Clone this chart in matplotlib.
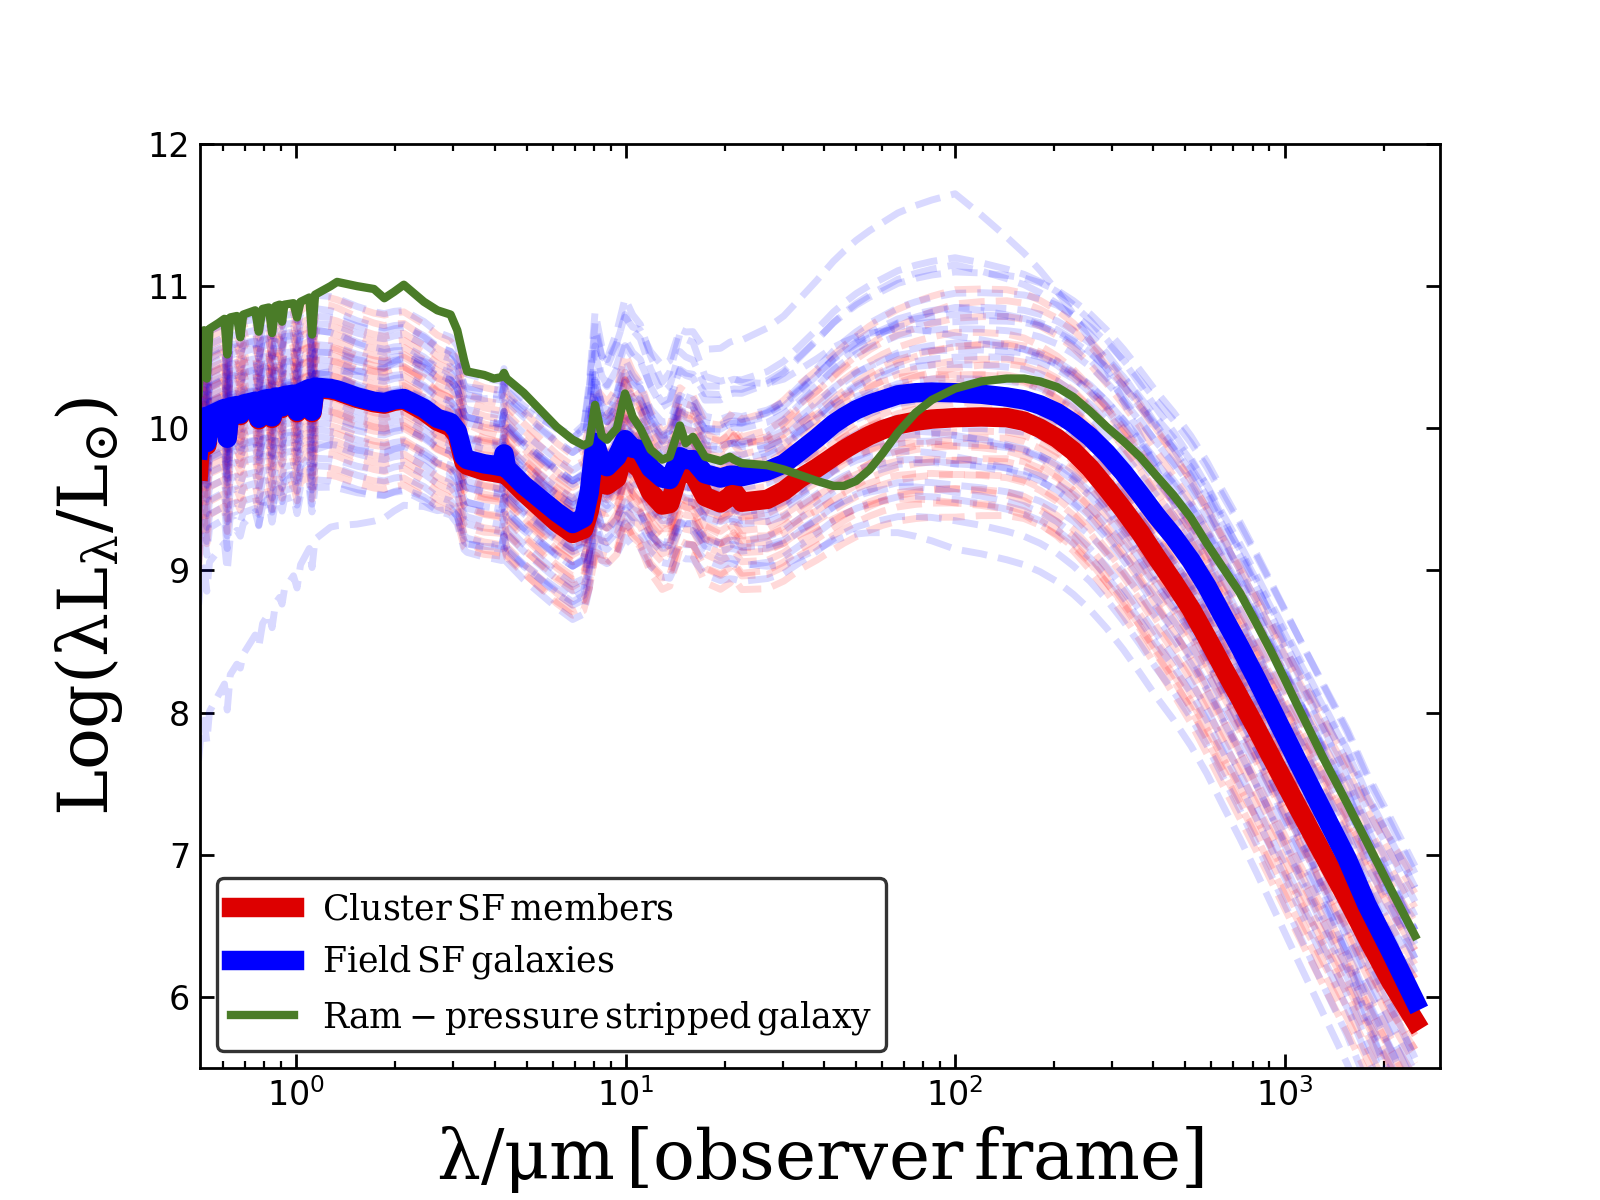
'''
SED templates: cluster vs field star-forming galaxies
'''

import numpy as np
import matplotlib
matplotlib.use('Agg')
from matplotlib import pyplot as plt

# observer-frame wavelength grid (micron) shared by the three main SEDs
wavelength = [0.505, 0.515, 0.525, 0.535, 0.545, 0.58, 0.605, 0.617, 0.63, 0.66,
              0.676, 0.69, 0.75, 0.769, 0.79, 0.825, 0.844, 0.865, 0.89, 0.905,
              0.92, 0.98, 1.005, 1.03, 1.095, 1.116, 1.14, 1.27, 1.33, 1.53,
              1.72, 1.85, 1.98, 2.12, 2.44, 2.68, 2.94, 3.08, 3.23, 3.30,
              3.72, 3.98, 4.20, 4.27, 4.35, 4.9, 6.17, 6.9, 7.45, 7.75,
              8.07, 8.45, 8.77, 9.40, 9.95, 10.5, 11.07, 11.9, 12.9, 13.6,
              14.6, 15.2, 16.0, 17.4, 19.4, 20.7, 21.3, 22.5, 26.9, 30.2,
              33.9, 38.0, 42.7, 46.0, 50.1, 55.0, 60.3, 67.0, 75.9, 85.0,
              100.0, 120.0, 143.5, 162.0, 181.0, 204.0, 228.5, 257.0, 288.4, 324.0,
              364.0, 407.0, 460.0, 520.0, 581.0, 650.0, 733.0, 825.0, 925.0, 1100.0,
              1312.0, 1550.0, 1778.0, 2100.0, 2490.0]

# Log(lambda L_lambda / L_sun)
field_sf = [9.85, 10.05, 10.08, 9.90, 10.09, 10.12, 10.14, 9.93, 10.15, 10.16,
            10.10, 10.17, 10.19, 10.07, 10.20, 10.21, 10.08, 10.22, 10.22, 10.15,
            10.23, 10.24, 10.12, 10.25, 10.28, 10.12, 10.29, 10.28, 10.27, 10.22,
            10.19, 10.18, 10.20, 10.21, 10.14, 10.07, 10.04, 9.98, 9.80, 9.78,
            9.75, 9.74, 9.73, 9.82, 9.72, 9.60, 9.41, 9.33, 9.37, 9.55,
            9.90, 9.75, 9.73, 9.80, 9.92, 9.86, 9.85, 9.72, 9.65, 9.64,
            9.80, 9.78, 9.78, 9.68, 9.65, 9.67, 9.67, 9.66, 9.70, 9.75,
            9.84, 9.93, 10.03, 10.08, 10.13, 10.17, 10.20, 10.235, 10.25, 10.255,
            10.25, 10.24, 10.22, 10.20, 10.165, 10.11, 10.035, 9.94, 9.825, 9.69,
            9.54, 9.39, 9.24, 9.07, 8.89, 8.68, 8.46, 8.23, 8.00, 7.65,
            7.30, 6.97, 6.65, 6.32, 5.97]

cluster_sf = [9.70, 10.02, 10.07, 9.88, 10.08, 10.11, 10.13, 9.95, 10.14, 10.15,
              10.09, 10.16, 10.18, 10.06, 10.19, 10.20, 10.07, 10.21, 10.21, 10.14,
              10.22, 10.23, 10.11, 10.24, 10.27, 10.11, 10.28, 10.27, 10.26, 10.21,
              10.18, 10.17, 10.19, 10.20, 10.12, 10.05, 10.01, 9.95, 9.76, 9.74,
              9.70, 9.69, 9.68, 9.74, 9.67, 9.55, 9.34, 9.26, 9.29, 9.42,
              9.63, 9.61, 9.60, 9.65, 9.86, 9.76, 9.71, 9.55, 9.46, 9.47,
              9.71, 9.69, 9.68, 9.52, 9.475, 9.52, 9.555, 9.48, 9.50, 9.56,
              9.65, 9.72, 9.80, 9.85, 9.90, 9.95, 9.99, 10.025, 10.05, 10.065,
              10.075, 10.08, 10.075, 10.05, 10.0, 9.93, 9.84, 9.72, 9.58, 9.43,
              9.27, 9.10, 8.92, 8.73, 8.53, 8.32, 8.10, 7.88, 7.66, 7.33,
              7.00, 6.69, 6.42, 6.11, 5.83]

rps_galaxy = [10.25, 10.62, 10.69, 10.35, 10.70, 10.74, 10.77, 10.52, 10.78, 10.79,
              10.64, 10.80, 10.83, 10.68, 10.84, 10.85, 10.67, 10.86, 10.87, 10.75,
              10.87, 10.88, 10.78, 10.89, 10.92, 10.66, 10.94, 11.00, 11.03, 11.00,
              10.98, 10.915, 10.96, 11.01, 10.89, 10.83, 10.80, 10.69, 10.48, 10.40,
              10.375, 10.35, 10.36, 10.39, 10.35, 10.25, 10.01, 9.92, 9.88, 9.90,
              10.165, 9.95, 9.92, 10.00, 10.245, 10.08, 10.00, 9.85, 9.78, 9.80,
              10.02, 9.895, 9.94, 9.80, 9.77, 9.80, 9.78, 9.755, 9.74, 9.71,
              9.67, 9.63, 9.595, 9.595, 9.63, 9.71, 9.825, 9.97, 10.11, 10.20,
              10.28, 10.33, 10.35, 10.35, 10.33, 10.29, 10.22, 10.12, 10.01, 9.91,
              9.80, 9.67, 9.53, 9.37, 9.19, 9.02, 8.84, 8.62, 8.40, 8.04,
              7.68, 7.36, 7.09, 6.76, 6.43]

# individual templates: offset from the mean at these wavelengths,
# last column = extra PAH strength
anchor_wl = [0.5, 1.2, 3.0, 16.0, 100.0, 2500.0]

cluster_offsets = [
    [0.60, 0.65, 0.60, 0.50, 0.90, 0.90, 0.2],
    [0.50, 0.50, 0.45, 0.40, 0.70, 0.80, 0.1],
    [0.40, 0.45, 0.40, 0.30, 0.50, 0.60, 0.0],
    [0.35, 0.30, 0.30, 0.35, 0.60, 0.50, 0.2],
    [0.30, 0.30, 0.20, 0.20, 0.40, 0.50, 0.1],
    [0.25, 0.20, 0.25, 0.10, 0.30, 0.30, 0.0],
    [0.20, 0.20, 0.15, 0.15, 0.25, 0.40, 0.3],
    [0.15, 0.10, 0.10, 0.00, 0.10, 0.20, 0.0],
    [0.10, 0.10, 0.05, 0.05, 0.20, 0.10, 0.1],
    [0.05, 0.05, 0.00, -0.05, 0.00, 0.00, 0.0],
    [0.00, 0.00, -0.05, 0.00, 0.15, 0.30, 0.2],
    [-0.05, -0.05, -0.10, -0.10, -0.10, -0.10, 0.0],
    [-0.10, -0.10, -0.10, -0.15, 0.05, 0.20, 0.1],
    [-0.15, -0.15, -0.20, -0.20, -0.20, -0.20, 0.0],
    [-0.20, -0.20, -0.20, -0.10, -0.30, -0.40, 0.2],
    [-0.25, -0.25, -0.30, -0.30, -0.15, -0.10, 0.0],
    [-0.30, -0.30, -0.30, -0.35, -0.40, -0.50, 0.1],
    [-0.35, -0.35, -0.40, -0.40, -0.50, -0.70, 0.0],
    [-0.40, -0.40, -0.45, -0.30, -0.30, -0.20, 0.2],
    [-0.50, -0.45, -0.50, -0.50, -0.60, -0.80, 0.0],
    [-0.60, -0.55, -0.55, -0.60, -0.70, -0.60, 0.1],
    [-0.70, -0.60, -0.60, -0.50, -0.50, -0.90, 0.0],
    [0.45, 0.40, 0.35, 0.20, 0.00, -0.30, 0.0],
    [0.30, 0.35, 0.30, 0.10, -0.20, -0.50, 0.1],
    [0.20, 0.25, 0.20, 0.30, 0.80, 1.00, 0.3],
    [0.10, 0.15, 0.10, 0.20, 0.50, 0.70, 0.1],
    [-0.10, -0.05, 0.00, 0.10, 0.35, 0.60, 0.2],
    [0.00, 0.05, 0.05, -0.20, -0.40, -0.60, 0.0],
    [-0.20, -0.15, -0.15, -0.25, -0.60, -1.00, 0.0],
    [0.55, 0.60, 0.50, 0.45, 0.30, 0.20, 0.1],
]

field_offsets = [
    [0.00, 0.10, 0.40, 0.85, 1.40, -1.06, 0.2],
    [0.60, 0.65, 0.60, 0.60, 0.95, 0.50, 0.4],
    [0.50, 0.50, 0.50, 0.50, 0.90, 0.30, 0.3],
    [0.40, 0.45, 0.45, 0.55, 0.85, 0.90, 0.2],
    [0.35, 0.40, 0.35, 0.40, 0.50, 0.80, 0.1],
    [0.30, 0.30, 0.30, 0.30, 0.45, 0.60, 0.3],
    [0.25, 0.25, 0.25, 0.35, 0.55, 0.70, 0.0],
    [0.20, 0.20, 0.15, 0.20, 0.30, 0.50, 0.2],
    [0.15, 0.15, 0.15, 0.10, 0.35, 0.40, 0.1],
    [0.10, 0.10, 0.05, 0.10, 0.20, 0.30, 0.0],
    [0.05, 0.05, 0.05, 0.00, 0.10, 0.20, 0.2],
    [0.00, 0.00, 0.00, 0.05, 0.25, 0.50, 0.1],
    [-0.05, -0.05, -0.05, -0.05, 0.00, 0.00, 0.0],
    [-0.10, -0.10, -0.10, -0.10, -0.05, 0.10, 0.3],
    [-0.15, -0.15, -0.15, -0.20, -0.15, -0.20, 0.0],
    [-0.20, -0.20, -0.20, -0.15, -0.25, -0.10, 0.1],
    [-0.25, -0.30, -0.30, -0.30, -0.35, -0.40, 0.0],
    [-0.30, -0.35, -0.35, -0.25, -0.30, -0.60, 0.2],
    [-0.40, -0.40, -0.40, -0.45, -0.50, -0.50, 0.0],
    [-0.50, -0.50, -0.45, -0.50, -0.65, -0.80, 0.1],
    [-0.60, -0.55, -0.55, -0.60, -0.75, -1.10, 0.0],
    [-0.70, -0.65, -0.65, -0.70, -0.90, -1.30, 0.0],
    [-0.80, -0.70, -0.60, -0.50, -1.10, -1.50, 0.0],
    [-2.20, -1.00, -0.60, -0.45, -0.70, -1.00, 0.0],
    [-1.10, -0.40, -0.30, -0.30, -0.50, -0.70, 0.1],
    [0.45, 0.40, 0.30, 0.25, 0.00, -0.40, 0.2],
    [0.20, 0.25, 0.30, 0.30, 0.70, 0.95, 0.1],
    [-0.10, 0.00, 0.10, 0.15, 0.60, 0.80, 0.2],
    [0.10, 0.05, 0.00, -0.10, -0.30, -0.70, 0.0],
    [-0.30, -0.25, -0.20, -0.20, -0.45, -0.90, 0.0],
    [0.60, 0.55, 0.50, 0.70, 0.40, 0.10, 0.5],
    [0.05, 0.10, 0.00, 0.30, 0.60, 0.40, 0.5],
]

# shape of the PAH emission features (dex above the continuum)
pah_wl = [6.9, 7.45, 8.07, 8.77, 9.95, 11.07, 12.9, 14.6, 16.0, 17.4, 21.3, 26.9]
pah_amp = [0.0, 0.05, 0.6, 0.25, 0.7, 0.45, 0.0, 0.35, 0.25, 0.0, 0.05, 0.0]

plt.rcParams['mathtext.fontset'] = 'dejavuserif'

wl = np.array(wavelength)
logwl = np.log10(wl)
pah = np.interp(wl, pah_wl, pah_amp)


def template(base, row):
    '''
    mean SED shifted by the offsets of one individual template
    '''
    shift = np.interp(logwl, np.log10(anchor_wl), row[:6])
    return np.array(base) + shift + row[6] * pah


fig, ax = plt.subplots(figsize=(8, 6), dpi=200)

for row in cluster_offsets:
    ax.plot(wl, template(cluster_sf, row), '--', color='red', alpha=0.15, lw=2.5)
for row in field_offsets:
    ax.plot(wl, template(field_sf, row), '--', color='blue', alpha=0.15, lw=2.5)

ax.plot(wl, cluster_sf, color='#dd0000', lw=7, label=r'$\rm Cluster\,SF\,members$')
ax.plot(wl, field_sf, color='#0000ff', lw=7, label=r'$\rm Field\,SF\,galaxies$')
ax.plot(wl, rps_galaxy, color='#4a7c28', lw=3,
        label=r'$\rm Ram-pressure\,stripped\,galaxy$')

ax.set_xscale('log')
ax.set_xlim(0.51, 2965)
ax.set_ylim(5.5, 12)
ax.set_xlabel(r'$\rm \lambda/\mu m\,[observer\,frame]$', fontsize=25)
ax.set_ylabel(r'$\rm Log(\lambda L_{\lambda}/L_{\odot})$', fontsize=25, labelpad=8)

ax.tick_params(which='both', direction='in', top=True, right=True, labelsize=12)
ax.tick_params(which='major', length=5, width=1.0)
ax.tick_params(which='minor', length=2.5, width=0.8)
for s in ax.spines.values():
    s.set_linewidth(1.0)

leg = ax.legend(loc='lower left', fontsize=12.5, handlelength=1.8, framealpha=1)
leg.get_frame().set_edgecolor('0.2')
leg.get_frame().set_linewidth(1.2)

plt.savefig('out.png', dpi=200)
